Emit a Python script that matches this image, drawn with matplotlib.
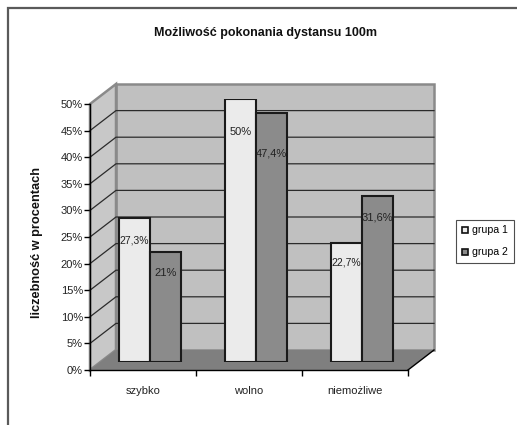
import matplotlib
matplotlib.use("Agg")
import matplotlib.pyplot as plt
from matplotlib.patches import Polygon, Rectangle
from matplotlib.lines import Line2D

plt.rcParams['font.family'] = ['Liberation Sans', 'DejaVu Sans']

# --- data ---
categories = ["szybko", "wolno", "niemożliwe"]
series_names = ["grupa 1", "grupa 2"]
grupa1 = [27.3, 50.0, 22.7]
grupa2 = [21.0, 47.4, 31.6]
y_ticks = [0, 5, 10, 15, 20, 25, 30, 35, 40, 45, 50]
y_tick_labels = [f"{t}%" for t in y_ticks]

title = "Możliwość pokonania dystansu 100m"
y_title = "liczebność w procentach"

W, H = 517, 425
fig = plt.figure(figsize=(W / 100, H / 100), dpi=100)
fig.patch.set_facecolor("white")

# outer chart frame (runs off the right and bottom edges)
fig.patches.append(Rectangle((8 / W, -0.2), 1.3, 1 - 8 / H + 0.2, transform=fig.transFigure,
                             fill=False, ec="#5a5a5a", lw=1.6))

# front plane of the 3D box
ax = fig.add_axes([90 / W, (H - 370) / H, 318 / W, 266 / H])
ax.set_xlim(0, 3)
ax.set_ylim(0, 50)
ax.patch.set_visible(False)
for s in ("top", "right"):
    ax.spines[s].set_visible(False)
for s in ("left", "bottom"):
    ax.spines[s].set_color("black")
    ax.spines[s].set_linewidth(1.0)
    ax.spines[s].set_zorder(6)

# depth of the 3D box, in data units
DX = 26 / 318 * 3
DY = 20 / 266 * 50

wall_edge = "#8a8a8a"
back = Polygon([(DX, DY), (3 + DX, DY), (3 + DX, 50 + DY), (DX, 50 + DY)], closed=True,
               fc="#c0c0c0", ec=wall_edge, lw=1.8, clip_on=False, zorder=1)
side = Polygon([(0, 0), (DX, DY), (DX, 50 + DY), (0, 50)], closed=True,
               fc="#c8c8c8", ec=wall_edge, lw=1.8, clip_on=False, zorder=1)
floor = Polygon([(0, 0), (3, 0), (3 + DX, DY), (DX, DY)], closed=True,
                fc="#7f7f7f", ec="none", lw=0, clip_on=False, zorder=2)
for p in (back, side, floor):
    ax.add_patch(p)

for v in y_ticks[1:-1]:
    ax.plot([0, DX, 3 + DX], [v, v + DY, v + DY], color="#2b2b2b", lw=0.9,
            clip_on=False, zorder=3)
ax.plot([3, 3 + DX], [0, DY], color="black", lw=1.0, clip_on=False, zorder=3)

ax.set_yticks(y_ticks)
ax.set_yticklabels(y_tick_labels, fontsize=8, color="#222222")
ax.tick_params(axis="y", length=4, width=1, pad=1, direction="out")
ax.set_xticks([0, 1, 2, 3])
ax.set_xticklabels([])
ax.tick_params(axis="x", which="major", length=4, width=1, direction="out")
ax.set_xticks([0.5, 1.5, 2.5], minor=True)
ax.set_xticklabels(categories, minor=True, fontsize=8, color="#222222")
ax.tick_params(axis="x", which="minor", length=0, pad=11.5)

# bars sit slightly behind the front plane
bax = fig.add_axes([97 / W, (H - 362) / H, 318 / W, 263 / H])
bax.set_xlim(0, 3)
bax.set_ylim(0, 50)
bax.axis("off")

centers = [0.5, 1.5, 2.5]
bw = 0.292
b1 = bax.bar([c - bw / 2 for c in centers], grupa1, width=bw, color="#ebebeb",
             edgecolor="#1a1a1a", lw=1.5, zorder=5)
b2 = bax.bar([c + bw / 2 for c in centers], grupa2, width=bw, color="#8b8b8b",
             edgecolor="#1a1a1a", lw=1.5, zorder=5)

def fmt(v):
    return f"{v:g}".replace(".", ",") + "%"

# label drop below bar top, in pixels
drop1 = [22, 33, 20]
drop2 = [21, 41, 22]
for bars, vals, drops, fs in ((b1, grupa1, drop1, 7.5), (b2, grupa2, drop2, 8)):
    for rect, v, d in zip(bars, vals, drops):
        bax.annotate(fmt(v), (rect.get_x() + rect.get_width() / 2, v),
                     xytext=(0, -d * 0.72), textcoords="offset points",
                     ha="center", va="center", fontsize=fs if v != 50 else 8,
                     color="#222222", zorder=6)

fig.text(266 / W, 1 - 33 / H, title, ha="center", va="center",
         fontsize=9, fontweight="bold", color="#111111")
fig.text(37 / W, 1 - 243 / H, y_title, ha="center", va="center", rotation=90,
         fontsize=9.2, fontweight="bold", color="#111111")

handles = [Line2D([], [], ls="none", marker="s", markersize=5, mfc="#ebebeb",
                  mec="#111111", mew=1.2),
           Line2D([], [], ls="none", marker="s", markersize=5, mfc="#8b8b8b",
                  mec="#111111", mew=1.2)]
leg = fig.legend(handles, series_names, loc="upper left",
                 bbox_to_anchor=(456 / W, 1 - 220 / H), fontsize=7.6,
                 frameon=True, fancybox=False, handlelength=0.7, handletextpad=0.35,
                 borderpad=0.5, borderaxespad=0, labelspacing=1.15)
leg.get_frame().set_edgecolor("#222222")
leg.get_frame().set_linewidth(0.8)
leg._legend_box.sep = 0

fig.savefig("out.png", dpi=100)
